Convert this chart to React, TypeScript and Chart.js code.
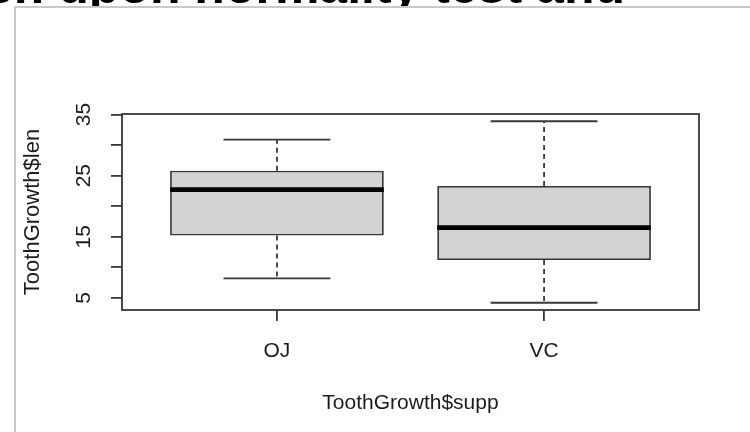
import React, { useEffect, useRef } from "react";
import { Chart, registerables } from "chart.js";

Chart.register(...registerables);

// ---- data (ToothGrowth five-number summaries) ----
const categories = ["OJ", "VC"];
const whiskerLow = [8.2, 4.2];
const hingeLow = [15.2, 11.2];
const medians = [22.7, 16.5];
const hingeHigh = [25.8, 23.3];
const whiskerHigh = [30.9, 33.9];

const yTickValues = [5, 10, 15, 20, 25, 30, 35];
const yTickLabels = [5, 15, 25, 35];
const yMin = 3.01;
const yMax = 35.09;
const xMin = 0.42;
const xMax = 2.58;

const xTitle = "ToothGrowth$supp";
const yTitle = "ToothGrowth$len";
const headline = "er. upon normality test and";

const FONT = "'Liberation Sans', Arial, sans-serif";
const INK = "#1c1c1c";
const LINE = "#383838";

export default function App() {
  const ref = useRef<HTMLCanvasElement | null>(null);

  useEffect(() => {
    if (!ref.current) return;
    const pos = categories.map((_, i) => i + 1);

    const boxData = pos.map((p, i) => ({ x: p, y: [hingeLow[i], hingeHigh[i]] }));
    const medianData = pos.flatMap((p, i) => [
      { x: p - 0.4, y: medians[i] },
      { x: p + 0.4, y: medians[i] },
      { x: p + 0.45, y: null },
    ]);
    const whiskerData = pos.flatMap((p, i) => [
      { x: p, y: hingeHigh[i] },
      { x: p, y: whiskerHigh[i] },
      { x: p, y: null },
      { x: p, y: hingeLow[i] },
      { x: p, y: whiskerLow[i] },
      { x: p, y: null },
    ]);
    const capData = pos.flatMap((p, i) => [
      { x: p - 0.2, y: whiskerHigh[i] },
      { x: p + 0.2, y: whiskerHigh[i] },
      { x: p, y: null },
      { x: p - 0.2, y: whiskerLow[i] },
      { x: p + 0.2, y: whiskerLow[i] },
      { x: p, y: null },
    ]);

    const lineBase = {
      type: "line" as const,
      pointRadius: 0,
      fill: false,
      tension: 0,
      spanGaps: false,
      borderCapStyle: "butt" as const,
    };

    const framePlugin = {
      id: "frameAndYLabels",
      afterDatasetsDraw(chart: any) {
        const { ctx, chartArea, scales } = chart;
        ctx.save();
        ctx.strokeStyle = LINE;
        ctx.lineWidth = 1.8;
        ctx.strokeRect(
          chartArea.left,
          chartArea.top,
          chartArea.right - chartArea.left,
          chartArea.bottom - chartArea.top
        );
        ctx.fillStyle = INK;
        ctx.font = `21px ${FONT}`;
        ctx.textAlign = "center";
        ctx.textBaseline = "middle";
        for (const v of yTickLabels) {
          const y = scales.y.getPixelForValue(v);
          ctx.save();
          ctx.translate(84, y);
          ctx.rotate(-Math.PI / 2);
          ctx.fillText(String(v), 0, 0);
          ctx.restore();
        }
        ctx.restore();
      },
    };

    const chart = new Chart(ref.current, {
      type: "bar",
      data: {
        datasets: [
          {
            type: "bar",
            data: boxData as any,
            backgroundColor: "#d3d3d3",
            borderColor: LINE,
            borderWidth: 1.8,
            borderSkipped: false,
            categoryPercentage: 1,
            barPercentage: 0.8,
            order: 3,
          },
          {
            ...lineBase,
            data: whiskerData as any,
            borderColor: LINE,
            borderWidth: 1.8,
            borderDash: [5, 4],
            order: 4,
          },
          {
            ...lineBase,
            data: capData as any,
            borderColor: LINE,
            borderWidth: 1.8,
            order: 2,
          },
          {
            ...lineBase,
            data: medianData as any,
            borderColor: "#000000",
            borderWidth: 4.8,
            order: 1,
          },
        ] as any,
      },
      options: {
        responsive: false,
        animation: false,
        events: [],
        layout: { padding: { left: 0, top: 114, right: 51, bottom: 0 } },
        plugins: {
          legend: { display: false },
          tooltip: { enabled: false },
        },
        scales: {
          x: {
            type: "linear",
            min: xMin,
            max: xMax,
            offset: false,
            afterBuildTicks: (scale: any) => {
              scale.ticks = pos.map((p) => ({ value: p }));
            },
            afterFit: (scale: any) => {
              scale.height = 122;
            },
            ticks: {
              autoSkip: false,
              maxRotation: 0,
              padding: 18,
              color: INK,
              font: { family: FONT, size: 21 },
              callback: (v: any) => categories[Math.round(Number(v)) - 1] ?? "",
            },
            grid: {
              offset: false,
              drawOnChartArea: false,
              drawTicks: true,
              tickLength: 11,
              color: LINE,
              lineWidth: 1.8,
            },
            border: { display: false },
            title: {
              display: true,
              text: xTitle,
              color: INK,
              font: { family: FONT, size: 21 },
              padding: { top: 0, bottom: 16 },
            },
          },
          y: {
            type: "linear",
            min: yMin,
            max: yMax,
            afterBuildTicks: (scale: any) => {
              scale.ticks = yTickValues.map((v) => ({ value: v }));
            },
            afterFit: (scale: any) => {
              scale.width = 122;
            },
            ticks: { display: false },
            grid: {
              drawOnChartArea: false,
              drawTicks: true,
              tickLength: 11,
              color: LINE,
              lineWidth: 1.8,
            },
            border: { display: false },
            title: {
              display: true,
              text: yTitle,
              color: INK,
              font: { family: FONT, size: 22 },
              padding: { top: 20, bottom: 0 },
            },
          },
        },
      } as any,
      plugins: [framePlugin],
    });
    return () => chart.destroy();
  }, []);

  return (
    <div
      style={{
        position: "fixed",
        left: 0,
        top: 0,
        width: 750,
        height: 432,
        overflow: "hidden",
        background: "#ffffff",
      }}
    >
      <div
        style={{
          position: "absolute",
          left: -14,
          top: -39,
          whiteSpace: "nowrap",
          fontFamily: FONT,
          fontWeight: "bold",
          fontSize: 50,
          lineHeight: "50px",
          color: "#000",
        }}
      >
        {headline}
      </div>
      <div
        style={{
          position: "absolute",
          left: 14,
          top: 6,
          width: 760,
          height: 440,
          background: "#ffffff",
          borderLeft: "2px solid #c9c9c9",
          borderTop: "2px solid #c9c9c9",
        }}
      />
      <canvas
        ref={ref}
        width={750}
        height={432}
        style={{ position: "absolute", left: 0, top: 0, width: 750, height: 432 }}
      />
    </div>
  );
}
